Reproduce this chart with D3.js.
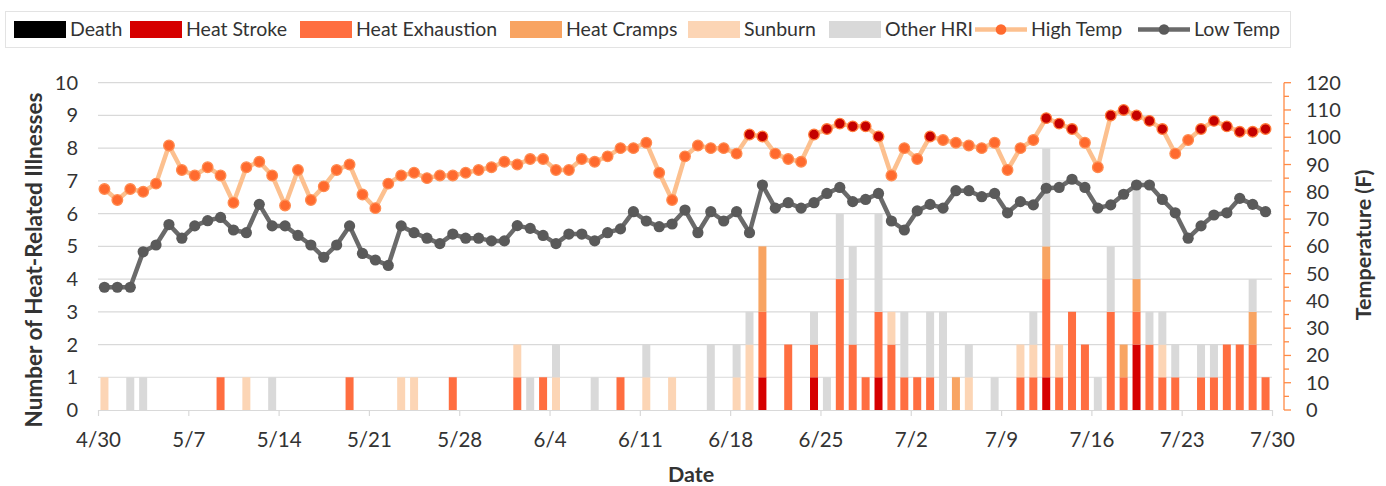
<!DOCTYPE html>
<html>
<head>
<meta charset="utf-8">
<script src="https://cdn.jsdelivr.net/npm/d3@7"></script>
<style>
  html, body { margin: 0; padding: 0; background: #fff; }
  svg { display: block; }
  text { font-family: Lato, "Open Sans", sans-serif; fill: #333; }
</style>
</head>
<body>
<svg id="chart" width="1386" height="486"></svg>
<script>
// ---------- DATA ----------
const startDate = new Date(Date.UTC(2018, 3, 30)); // 4/30
const endDate = new Date(Date.UTC(2018, 6, 30));   // 7/30 (axis end)
const days = d3.utcDay.range(startDate, endDate);  // 4/30 .. 7/29 (91 days)

const seriesNames = ["Death", "Heat Stroke", "Heat Exhaustion", "Heat Cramps", "Sunburn", "Other HRI"];

const death = [
  0,0,0,0,0,0,0,0,0,0, 0,0,0,0,0,0,0,0,0,0, 0,0,0,0,0,0,0,0,0,0,
  0,0,0,0,0,0,0,0,0,0, 0,0,0,0,0,0,0,0,0,0, 0,0,0,0,0,0,0,0,0,0,
  0,0,0,0,0,0,0,0,0,0, 0,0,0,0,0,0,0,0,0,0, 0,0,0,0,0,0,0,0,0,0, 0];
const heatStroke = [
  0,0,0,0,0,0,0,0,0,0, 0,0,0,0,0,0,0,0,0,0, 0,0,0,0,0,0,0,0,0,0,
  0,0,0,0,0,0,0,0,0,0, 0,0,0,0,0,0,0,0,0,0, 0,1,0,0,0,1,0,0,0,0,
  1,0,0,0,0,0,0,0,0,0, 0,0,0,1,0,0,0,0,0,0, 2,0,0,0,0,0,0,0,0,0, 0];
const heatExhaustion = [
  0,0,0,0,0,0,0,0,0,1, 0,0,0,0,0,0,0,0,0,1, 0,0,0,0,0,0,0,1,0,0,
  0,0,1,0,1,0,0,0,0,0, 1,0,0,0,0,0,0,0,0,0, 0,2,0,2,0,1,0,4,2,1,
  2,2,1,1,1,0,0,0,0,0, 0,1,1,3,1,3,2,0,3,1, 1,2,1,1,0,1,1,2,2,2, 1];
const heatCramps = [
  0,0,0,0,0,0,0,0,0,0, 0,0,0,0,0,0,0,0,0,0, 0,0,0,0,0,0,0,0,0,0,
  0,0,0,0,0,0,0,0,0,0, 0,0,0,0,0,0,0,0,0,0, 0,2,0,0,0,0,0,0,0,0,
  0,0,0,0,0,0,1,0,0,0, 0,0,0,1,0,0,0,0,0,1, 1,0,0,0,0,0,0,0,0,1, 0];
const sunburn = [
  1,0,0,0,0,0,0,0,0,0, 0,1,0,0,0,0,0,0,0,0, 0,0,0,1,1,0,0,0,0,0,
  0,0,1,0,0,1,0,0,0,0, 0,0,1,0,1,0,0,0,0,1, 2,0,0,0,0,0,0,0,0,0,
  0,1,0,0,0,0,0,1,0,0, 0,1,1,0,1,0,0,0,0,0, 0,0,1,0,0,0,0,0,0,0, 0];
const otherHRI = [
  0,0,1,1,0,0,0,0,0,0, 0,0,0,1,0,0,0,0,0,0, 0,0,0,0,0,0,0,0,0,0,
  0,0,0,1,0,1,0,0,1,0, 0,0,1,0,0,0,0,2,0,1, 1,0,0,0,0,1,1,2,3,0,
  3,0,2,0,2,3,0,1,0,1, 0,0,1,3,0,0,0,1,2,0, 3,1,1,1,0,1,1,0,0,1, 0];

const highTemp = [
  81,77,81,80,83,97,88,86,89,86, 76,89,91,86,75,88,77,82,88,90,
  79,74,83,86,87,85,86,86,87,88, 89,91,90,92,92,88,88,92,91,93,
  96,96,98,87,77,93,97,96,96,94, 101,100.3,94,92,91,101,103,105,104,104,
  100.3,86,96,92,100.3,99,98,97,96,98, 88,96,99,107,105,103,98,89,108,110,
  108,106,103,94,99,103,106,104,102,102, 103];
const lowTemp = [
  45,45,45,58,60.5,68,63,67.5,69.4,70.6, 66,65,75.4,67.5,67.5,64,60.5,56,60.5,67.5,
  57.4,55,53,67.5,65,63,61,64.5,63,63, 62,62,67.6,66.6,64,61,64.5,64.5,62,65,
  66.4,72.7,69.3,67.2,68.2,73.3,65,72.7,69.3,72.7, 65,82.5,74,76,74,76,79.4,81.6,76.4,77.2,
  79.4,69.3,66,73,75.4,74,80.4,80.4,78.2,79.4, 72.3,76.4,75.2,81.3,81.6,84.6,81.6,74,75.2,79.1,
  82.5,82.5,77.2,72.3,63,67.5,71.5,72.3,77.6,75.4, 72.7];

const countTicks = d3.range(0, 11, 1);
const tempTicks = d3.range(0, 121, 10);
const dateTicks = d3.utcDay.range(startDate, d3.utcDay.offset(endDate, 1), 7);

// ---------- STYLE ----------
const colors = {
  "Death": "#000000",
  "Heat Stroke": "#D60000",
  "Heat Exhaustion": "#FF6E40",
  "Heat Cramps": "#F8A462",
  "Sunburn": "#FCD5B5",
  "Other HRI": "#D9D9D9"
};
const highLine = "#FCC08F", highDot = "#FF6A2E", hotDot = "#C40000";
const lowLine = "#6A6A6A", lowDot = "#5A5A5A";

const svg = d3.select("#chart");
const plot = { left: 98, right: 1272, top: 82.7, bottom: 410 };

const xBand = d3.scaleBand().domain(days.map(d => +d))
  .range([plot.left, plot.right]).paddingInner(0.38).paddingOuter(0.19);
const xTime = d3.scaleUtc().domain([startDate, endDate]).range([plot.left, plot.right]);
const yCount = d3.scaleLinear().domain([0, 10]).range([plot.bottom, plot.top]);
const yTemp = d3.scaleLinear().domain([0, 120]).range([plot.bottom, plot.top]);
const cx = d => xBand(+d) + xBand.bandwidth() / 2;

// gridlines
svg.append("g").selectAll("line").data(countTicks.filter(t => t > 0)).join("line")
  .attr("x1", plot.left).attr("x2", plot.right)
  .attr("y1", d => yCount(d)).attr("y2", d => yCount(d))
  .attr("stroke", "#D9D9D9").attr("stroke-width", 1.2);

// left axis labels
svg.append("g").selectAll("text").data(countTicks).join("text")
  .attr("x", 78).attr("y", d => yCount(d)).attr("dy", "0.35em")
  .attr("text-anchor", "end").style("font-size", "20px").text(d => d);

// x axis
const xAxis = d3.axisBottom(xTime).tickValues(dateTicks)
  .tickFormat(d3.utcFormat("%-m/%-d")).tickSize(6).tickSizeOuter(0);
const gx = svg.append("g").attr("transform", `translate(0,${plot.bottom})`).call(xAxis);
gx.select(".domain").attr("stroke", "#D9D9D9").attr("stroke-width", 1.2);
gx.selectAll(".tick line").attr("stroke", "#D9D9D9").attr("stroke-width", 1.2);
gx.selectAll(".tick text").attr("y", 22).style("font-size", "20.5px")
  .style("font-family", "Lato, sans-serif").attr("fill", "#333");

// stacked bars
const table = days.map((d, i) => ({
  date: +d,
  "Death": death[i], "Heat Stroke": heatStroke[i], "Heat Exhaustion": heatExhaustion[i],
  "Heat Cramps": heatCramps[i], "Sunburn": sunburn[i], "Other HRI": otherHRI[i]
}));
const stacked = d3.stack().keys(seriesNames)(table);
svg.append("g").selectAll("g").data(stacked).join("g")
  .attr("fill", s => colors[s.key])
  .selectAll("rect").data(s => s.filter(v => v[1] > v[0])).join("rect")
  .attr("x", v => xBand(v.data.date)).attr("width", xBand.bandwidth())
  .attr("y", v => yCount(v[1])).attr("height", v => yCount(v[0]) - yCount(v[1]));

// right axis
const gr = svg.append("g").attr("transform", `translate(${plot.right + 12},0)`);
gr.append("line").attr("y1", yTemp(0)).attr("y2", yTemp(120)).attr("stroke", "#FF8A45").attr("stroke-width", 1.3);
gr.selectAll("line.tk").data(d3.range(0, 121, 5)).join("line").attr("class", "tk")
  .attr("x1", 0).attr("x2", d => d % 10 === 0 ? 7 : 5)
  .attr("y1", d => yTemp(d)).attr("y2", d => yTemp(d))
  .attr("stroke", "#FF8A45").attr("stroke-width", 1.3);
gr.selectAll("text").data(tempTicks).join("text")
  .attr("x", 22).attr("y", d => yTemp(d)).attr("dy", "0.35em")
  .style("font-size", "20px").text(d => d);

// temperature lines
const lineGen = () => d3.line().x((v, i) => cx(days[i])).y(v => yTemp(v));
svg.append("path").datum(highTemp).attr("d", lineGen()).attr("fill", "none")
  .attr("stroke", highLine).attr("stroke-width", 4.5).attr("stroke-linejoin", "round");
svg.append("path").datum(lowTemp).attr("d", lineGen()).attr("fill", "none")
  .attr("stroke", lowLine).attr("stroke-width", 4.5).attr("stroke-linejoin", "round");
svg.append("g").selectAll("circle").data(highTemp).join("circle")
  .attr("cx", (v, i) => cx(days[i])).attr("cy", v => yTemp(v)).attr("r", 5.3)
  .attr("fill", v => v >= 100 ? hotDot : highDot)
  .attr("stroke", v => v >= 100 ? "#FF7A3A" : "#FF8B50").attr("stroke-width", 1.3);
svg.append("g").selectAll("circle").data(lowTemp).join("circle")
  .attr("cx", (v, i) => cx(days[i])).attr("cy", v => yTemp(v)).attr("r", 5.6)
  .attr("fill", lowDot);

// axis titles
svg.append("text").attr("transform", "translate(42,260) rotate(-90)")
  .attr("text-anchor", "middle").style("font-size", "22.5px").style("font-weight", "bold")
  .attr("fill", "#222").text("Number of Heat-Related Illnesses");
svg.append("text").attr("transform", "translate(1371,245) rotate(-90)")
  .attr("text-anchor", "middle").style("font-size", "21.5px").style("font-weight", "bold")
  .attr("fill", "#222").text("Temperature (F)");
svg.append("text").attr("x", 691).attr("y", 482)
  .attr("text-anchor", "middle").style("font-size", "21.5px").style("font-weight", "bold")
  .attr("fill", "#222").text("Date");

// legend
const legendItems = seriesNames.map(n => ({ name: n, type: "bar" }))
  .concat([{ name: "High Temp", type: "line", line: highLine, dot: highDot },
           { name: "Low Temp", type: "line", line: lowLine, dot: lowDot }]);
const legendX = [14, 130, 300, 510, 688, 829, 975, 1138];
svg.append("rect").attr("x", 5.5).attr("y", 11.5).attr("width", 1285).attr("height", 36)
  .attr("fill", "#fff").attr("stroke", "#E3E3E3");
const lg = svg.append("g").selectAll("g").data(legendItems).join("g")
  .attr("transform", (d, i) => `translate(${legendX[i]},29.5)`);
lg.filter(d => d.type === "bar").append("rect")
  .attr("x", 0).attr("y", -8.5).attr("width", 52).attr("height", 17)
  .attr("fill", d => colors[d.name]);
lg.filter(d => d.type === "line").append("line")
  .attr("x1", 0).attr("x2", 52).attr("stroke", d => d.line).attr("stroke-width", 4.5);
lg.filter(d => d.type === "line").append("circle")
  .attr("cx", 26).attr("r", 5.3).attr("fill", d => d.dot);
lg.append("text").attr("x", 56).attr("dy", "0.35em").style("font-size", "19.5px")
  .attr("fill", "#222").text(d => d.name);
</script>
</body>
</html>
